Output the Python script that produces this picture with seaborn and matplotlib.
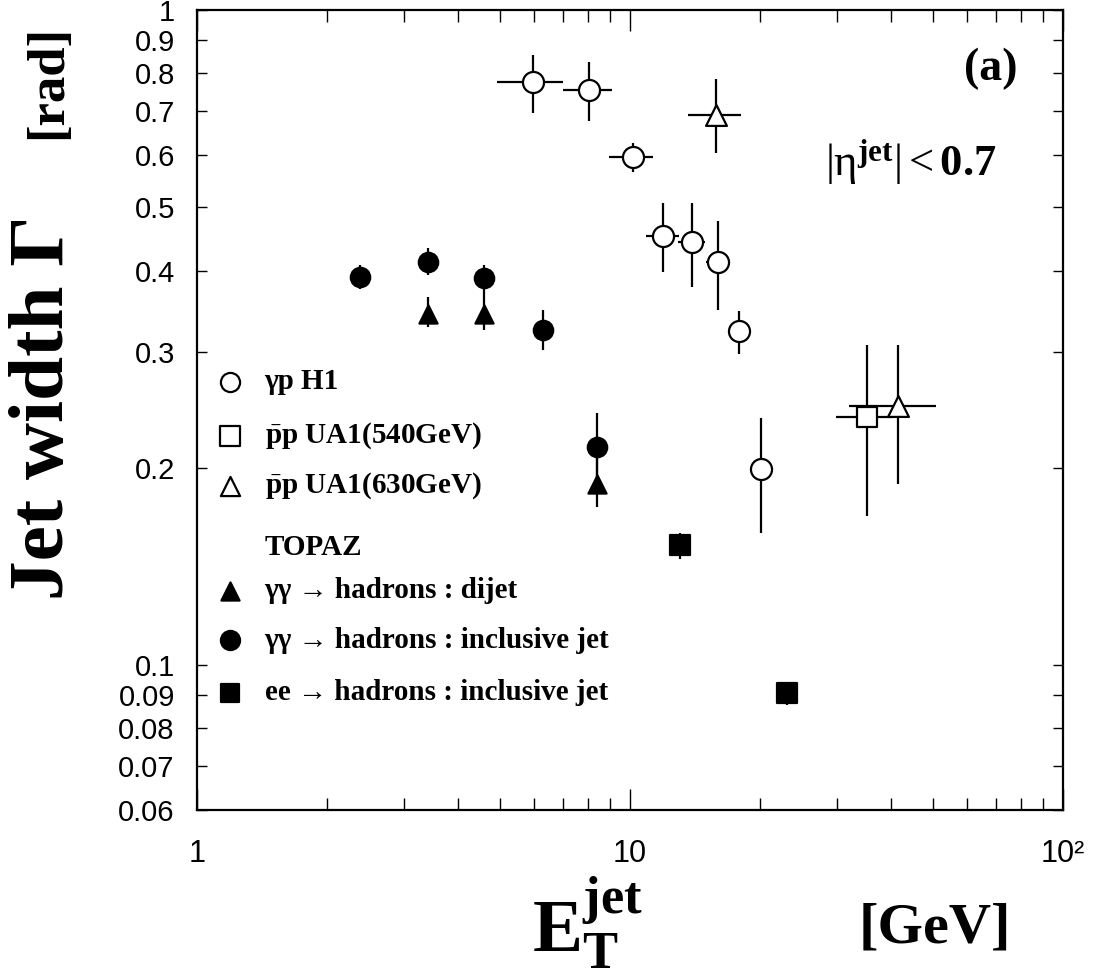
import numpy as np
import pandas as pd
import matplotlib
matplotlib.use("Agg")
import matplotlib.pyplot as plt
from matplotlib.ticker import FixedLocator, FixedFormatter, NullFormatter
import seaborn as sns

# ---------------- data ----------------
h1_x   = [5.96, 8.05, 10.15, 11.94, 13.88, 16.0, 17.9, 20.1]
h1_y   = [0.775, 0.754, 0.596, 0.451, 0.443, 0.412, 0.323, 0.199]
h1_ylo = [0.696, 0.677, 0.566, 0.398, 0.378, 0.348, 0.298, 0.159]
h1_yhi = [0.853, 0.834, 0.626, 0.507, 0.507, 0.476, 0.347, 0.238]
h1_xlo = [4.92, 7.0, 8.96, 10.9, 12.9, 15.0, 17.9, 20.1]
h1_xhi = [6.99, 9.1, 11.3, 13.0, 14.9, 17.0, 17.9, 20.1]

ua540_x   = [35.2]
ua540_y   = [0.239]
ua540_ylo = [0.169]
ua540_yhi = [0.308]
ua540_xlo = [29.9]
ua540_xhi = [40.6]

ua630_x   = [15.8, 41.5]
ua630_y   = [0.691, 0.248]
ua630_ylo = [0.605, 0.189]
ua630_yhi = [0.784, 0.308]
ua630_xlo = [13.6, 32.0]
ua630_xhi = [18.0, 50.9]

dijet_x   = [3.42, 4.61, 8.38]
dijet_y   = [0.343, 0.343, 0.189]
dijet_ylo = [0.328, 0.325, 0.174]
dijet_yhi = [0.365, 0.370, 0.215]

incl_x   = [2.38, 3.42, 4.61, 6.31, 8.38]
incl_y   = [0.3915, 0.4127, 0.389, 0.3246, 0.2154]
incl_ylo = [0.3745, 0.394, 0.370, 0.302, 0.190]
incl_yhi = [0.408, 0.4326, 0.408, 0.348, 0.2427]

ee_x   = [13.07, 23.0]
ee_y   = [0.1524, 0.0905]
ee_ylo = [0.145, 0.0867]
ee_yhi = [0.159, 0.0941]

ytick_vals   = [0.06, 0.07, 0.08, 0.09, 0.1, 0.2, 0.3, 0.4, 0.5, 0.6, 0.7, 0.8, 0.9, 1.0]
ytick_labels = ["0.06", "0.07", "0.08", "0.09", "0.1", "0.2", "0.3", "0.4",
                "0.5", "0.6", "0.7", "0.8", "0.9", "1"]
xtick_vals   = [1, 10, 100]
xtick_labels = ["1", "10", "10\u00b2"]

legend_labels = [
    "\u03b3p H1",
    r"$\bar{\mathbf{p}}\mathbf{p}$ UA1(540GeV)",
    r"$\bar{\mathbf{p}}\mathbf{p}$ UA1(630GeV)",
    "TOPAZ",
    "\u03b3\u03b3 \u2192 hadrons : dijet",
    "\u03b3\u03b3 \u2192 hadrons : inclusive jet",
    "ee \u2192 hadrons : inclusive jet",
]

# ---------------- style ----------------
sns.set_style("ticks")
plt.rcParams["font.family"] = ["Liberation Serif", "DejaVu Serif"]
plt.rcParams["mathtext.fontset"] = "custom"
plt.rcParams["mathtext.rm"] = "Liberation Serif"
plt.rcParams["mathtext.bf"] = "Liberation Serif:bold"
plt.rcParams["mathtext.it"] = "Liberation Serif:italic"
for k in ["text.color", "axes.labelcolor", "xtick.color", "ytick.color", "axes.edgecolor"]:
    plt.rcParams[k] = "black"

fig = plt.figure(figsize=(10.99, 9.77), dpi=100)
fig.patch.set_facecolor("white")
ax = fig.add_axes([197 / 1099, 1 - 810 / 977, (1063 - 197) / 1099, 800 / 977])
ax.set_facecolor("white")

def frame(x, y, ylo, yhi, xlo=None, xhi=None):
    d = pd.DataFrame({"x": x, "y": y, "ylo": ylo, "yhi": yhi})
    d["xlo"] = xlo if xlo is not None else x
    d["xhi"] = xhi if xhi is not None else x
    return d

series = [
    (frame(h1_x, h1_y, h1_ylo, h1_yhi, h1_xlo, h1_xhi), "o", "white", 230),
    (frame(ua540_x, ua540_y, ua540_ylo, ua540_yhi, ua540_xlo, ua540_xhi), "s", "white", 225),
    (frame(ua630_x, ua630_y, ua630_ylo, ua630_yhi, ua630_xlo, ua630_xhi), "^", "white", 225),
    (frame(dijet_x, dijet_y, dijet_ylo, dijet_yhi), "^", "black", 170),
    (frame(incl_x, incl_y, incl_ylo, incl_yhi), "o", "black", 195),
    (frame(ee_x, ee_y, ee_ylo, ee_yhi), "s", "black", 200),
]

for d, m, fc, s in series:
    ax.errorbar(d["x"], d["y"],
                yerr=[d["y"] - d["ylo"], d["yhi"] - d["y"]],
                xerr=[d["x"] - d["xlo"], d["xhi"] - d["x"]],
                fmt="none", ecolor="black", elinewidth=1.6, capsize=0, zorder=2)
    sns.scatterplot(data=d, x="x", y="y", marker=m, s=s, color=fc,
                    edgecolor="black", linewidth=1.6, zorder=3, ax=ax, legend=False)

ax.set_xscale("log")
ax.set_yscale("log")
ax.set_xlim(1, 100)
ax.set_ylim(0.06, 1.0)

# ticks
ax.xaxis.set_major_locator(FixedLocator(xtick_vals))
ax.xaxis.set_major_formatter(FixedFormatter(xtick_labels))
ax.xaxis.set_minor_locator(FixedLocator([v * 10 ** k for k in range(2) for v in range(2, 10)]))
ax.xaxis.set_minor_formatter(NullFormatter())
ax.yaxis.set_major_locator(FixedLocator(ytick_vals))
ax.yaxis.set_major_formatter(FixedFormatter(ytick_labels))
ax.yaxis.set_minor_locator(FixedLocator([]))

ax.tick_params(axis="x", which="major", direction="in", length=15, width=1.0,
               top=True, bottom=True, pad=21, labelsize=22, colors="black")
ax.tick_params(axis="x", which="minor", direction="in", length=8.5, width=1.0,
               top=True, bottom=True, colors="black")
ax.tick_params(axis="y", which="major", direction="in", length=7.5, width=1.0,
               left=True, right=True, pad=16, labelsize=21, colors="black")
for lab in ax.get_xticklabels() + ax.get_yticklabels():
    lab.set_fontfamily(["Liberation Sans", "DejaVu Sans"])
ax.set_xlabel("")
ax.set_ylabel("")
for sp in ax.spines.values():
    sp.set_linewidth(1.6)
    sp.set_color("black")

# legend (manual, inside axes)
row_y_px = [382, 436, 486, 548, 591, 640, 693]
legend_handles = [("o", "white", 190), ("s", "white", 190), ("^", "white", 190),
                  (None, None, 0), ("^", "black", 170), ("o", "black", 190), ("s", "black", 170)]
for lab, (m, fc, s), py in zip(legend_labels, legend_handles, row_y_px):
    ya = (810 - py) / 800
    if m is not None:
        ax.scatter([0.0385], [ya], marker=m, s=s, facecolor=fc, edgecolor="black",
                   linewidth=1.6, transform=ax.transAxes, zorder=4, clip_on=False)
    ax.text(0.078, ya, lab, transform=ax.transAxes, fontsize=21, fontweight="bold",
            va="center", ha="left", color="black")

# annotations
ax.text(0.948, 0.927, "(a)", transform=ax.transAxes, fontsize=33, fontweight="bold",
        ha="right", va="center", color="black")
ax.text(0.923, 0.81, r"$|\mathrm{\eta}^{\mathbf{jet}}| < \mathbf{0.7}$", transform=ax.transAxes,
        fontsize=32, ha="right", va="center", color="black")

# axis titles
fig.text(45 / 1099, 1 - 408 / 977, "Jet width \u0393", rotation=90, fontsize=57,
         fontweight="bold", ha="center", va="center", color="black")
fig.text(48 / 1099, 1 - 82 / 977, "[rad]", rotation=90, fontsize=38,
         fontweight="bold", ha="center", va="center", color="black")
fig.text(587 / 1099, 1 - 924 / 977, r"$\mathbf{E}_{\mathbf{T}}^{\mathbf{jet}}$",
         fontsize=54, ha="center", va="center", color="black")
fig.text(935 / 1099, 1 - 928 / 977, "[GeV]", fontsize=42, fontweight="bold",
         ha="center", va="center", color="black")

fig.savefig("out.png", dpi=100, facecolor="white")
